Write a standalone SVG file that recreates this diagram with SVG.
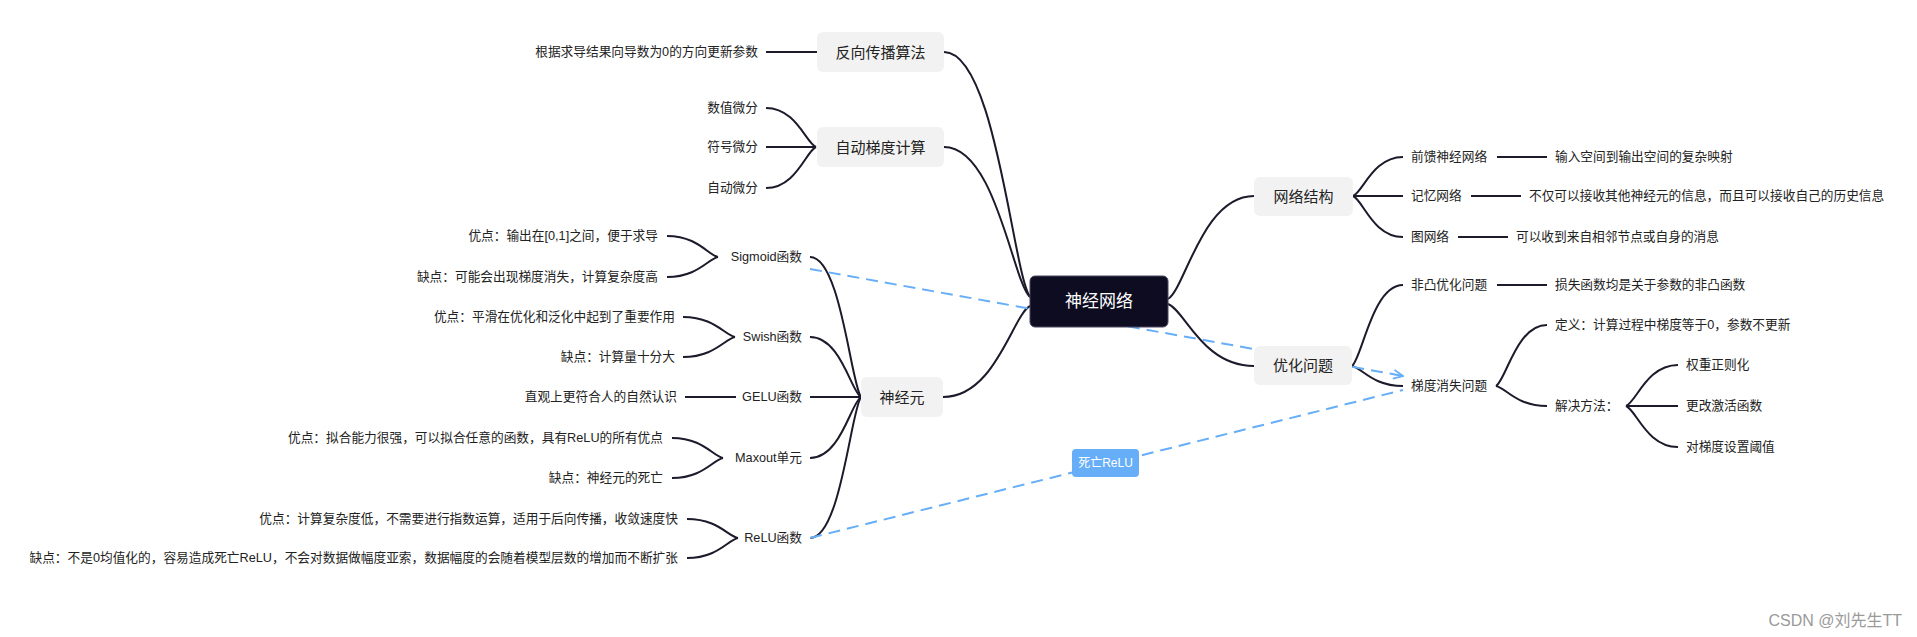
<svg xmlns="http://www.w3.org/2000/svg" width="1917" height="637" viewBox="0 0 1917 637">
<defs>
<style>
text{font-family:"Liberation Sans","Noto Sans CJK SC",sans-serif;fill:#222;dominant-baseline:central}
.t{font-size:12.7px}
.e{text-anchor:end}
.l1{font-size:15px;text-anchor:middle}
.box{fill:#f2f2f2}
.c{fill:none;stroke:#1c1a2b;stroke-width:2}
.d{fill:none;stroke:#66aef7;stroke-width:2;stroke-dasharray:12 7}
</style>
<marker id="arr" viewBox="0 0 12 12" refX="11" refY="6" markerWidth="12" markerHeight="12" markerUnits="userSpaceOnUse" orient="auto">
<path d="M1.5,1.5 L11,6 L1.5,10.5" fill="none" stroke="#66aef7" stroke-width="1.8" stroke-dasharray="none"/>
</marker>
</defs>
<rect width="1917" height="637" fill="#ffffff"/>
<g id="connectors">
<path class="c" d="M1030,297 C1012.8,272.5 995.6,52 944,52"/>
<path class="c" d="M1030,297 C1012.8,282 995.6,147 944,147"/>
<path class="c" d="M1030,306 C1012.6,315.1 995.2,397 943,397"/>
<path class="c" d="M1168,299 C1185.2,288.7 1202.4,196 1254,196"/>
<path class="c" d="M1168,304 C1185.2,310.2 1202.4,366 1254,366"/>
<path class="c" d="M817,52 L766,52"/>
<path class="c" d="M816,147 C806,143.1 796,108 766,108"/>
<path class="c" d="M816,147 L766,147"/>
<path class="c" d="M816,147 C806,151.1 796,188 766,188"/>
<path class="c" d="M861,397 C850.8,383 840.6,257 810,257"/>
<path class="c" d="M861,397 C850.8,391 840.6,337 810,337"/>
<path class="c" d="M861,397 L810,397"/>
<path class="c" d="M861,397 C850.8,403.1 840.6,458 810,458"/>
<path class="c" d="M861,397 C850.8,411.1 840.6,538 810,538"/>
<path class="c" d="M718,257 C707.8,254.9 697.6,236 667,236"/>
<path class="c" d="M718,257 C707.8,259 697.6,277 667,277"/>
<path class="c" d="M735,337 C724.6,335 714.2,317 683,317"/>
<path class="c" d="M735,337 C724.6,339 714.2,357 683,357"/>
<path class="c" d="M736,397 L685,397"/>
<path class="c" d="M723,458 C712.8,456 702.6,438 672,438"/>
<path class="c" d="M723,458 C712.8,460 702.6,478 672,478"/>
<path class="c" d="M738,538 C727.8,536.1 717.6,519 687,519"/>
<path class="c" d="M738,538 C727.8,540 717.6,558 687,558"/>
<path class="c" d="M1353,196 C1363,192.1 1373,157 1403,157"/>
<path class="c" d="M1353,196 L1403,196"/>
<path class="c" d="M1353,196 C1363,200.1 1373,237 1403,237"/>
<path class="c" d="M1497,157 L1547,157"/>
<path class="c" d="M1471,196 L1521,196"/>
<path class="c" d="M1458,237 L1508,237"/>
<path class="c" d="M1352,366 C1362.2,357.9 1372.4,285 1403,285"/>
<path class="c" d="M1352,366 C1362.2,368 1372.4,386 1403,386"/>
<path class="c" d="M1497,285 L1547,285"/>
<path class="c" d="M1496,386 C1506.2,379.9 1516.4,325 1547,325"/>
<path class="c" d="M1496,386 C1506.2,388 1516.4,406 1547,406"/>
<path class="c" d="M1626,406 C1636.4,401.9 1646.8,365 1678,365"/>
<path class="c" d="M1626,406 L1678,406"/>
<path class="c" d="M1626,406 C1636.4,410.1 1646.8,447 1678,447"/>
<path class="d" d="M810,269 L1403,376" marker-end="url(#arr)"/>
<path class="d" d="M810,538 L1403,390"/>
<g id="rel-label">
<rect x="1072" y="449" width="67" height="28" rx="4" fill="#66aef7"/>
<text x="1105.5" y="463" style="font-size:12px;fill:#fff;text-anchor:middle">死亡ReLU</text>
</g>
</g>

<g id="root">
<rect x="1030" y="276" width="138" height="51" rx="5" fill="#0e0c21" stroke="#4a4760" stroke-width="1"/>
<text x="1099" y="301.5" style="font-size:17px;fill:#fff;text-anchor:middle">神经网络</text>
</g>

<g id="n-fanxiang">
<rect class="box" x="817" y="32" width="127" height="40" rx="6"/>
<text class="l1" x="880.5" y="52">反向传播算法</text>
</g>
<g id="n-fanxiang-1"><text class="t e" x="758" y="52">根据求导结果向导数为0的方向更新参数</text></g>

<g id="n-zidong">
<rect class="box" x="817" y="127" width="127" height="40" rx="6"/>
<text class="l1" x="880.5" y="147">自动梯度计算</text>
</g>
<g id="n-zidong-1"><text class="t e" x="758" y="108">数值微分</text></g>
<g id="n-zidong-2"><text class="t e" x="758" y="147">符号微分</text></g>
<g id="n-zidong-3"><text class="t e" x="758" y="188">自动微分</text></g>

<g id="n-shenjingyuan">
<rect class="box" x="861" y="377" width="82" height="40" rx="6"/>
<text class="l1" x="902" y="397">神经元</text>
</g>
<g id="n-sigmoid"><text class="t e" x="802" y="257">Sigmoid函数</text></g>
<g id="n-sigmoid-1"><text class="t e" x="658" y="236">优点：输出在[0,1]之间，便于求导</text></g>
<g id="n-sigmoid-2"><text class="t e" x="658" y="277">缺点：可能会出现梯度消失，计算复杂度高</text></g>
<g id="n-swish"><text class="t e" x="802" y="337">Swish函数</text></g>
<g id="n-swish-1"><text class="t e" x="675" y="317">优点：平滑在优化和泛化中起到了重要作用</text></g>
<g id="n-swish-2"><text class="t e" x="675" y="357">缺点：计算量十分大</text></g>
<g id="n-gelu"><text class="t e" x="802" y="397">GELU函数</text></g>
<g id="n-gelu-1"><text class="t e" x="677" y="397">直观上更符合人的自然认识</text></g>
<g id="n-maxout"><text class="t e" x="802" y="458">Maxout单元</text></g>
<g id="n-maxout-1"><text class="t e" x="663" y="438">优点：拟合能力很强，可以拟合任意的函数，具有ReLU的所有优点</text></g>
<g id="n-maxout-2"><text class="t e" x="663" y="478">缺点：神经元的死亡</text></g>
<g id="n-relu"><text class="t e" x="802" y="538">ReLU函数</text></g>
<g id="n-relu-1"><text class="t e" x="678" y="519">优点：计算复杂度低，不需要进行指数运算，适用于后向传播，收敛速度快</text></g>
<g id="n-relu-2"><text class="t e" x="678" y="558">缺点：不是0均值化的，容易造成死亡ReLU，不会对数据做幅度亚索，数据幅度的会随着模型层数的增加而不断扩张</text></g>

<g id="n-wangluo">
<rect class="box" x="1254" y="177" width="99" height="39" rx="6"/>
<text class="l1" x="1303.5" y="196.5">网络结构</text>
</g>
<g id="n-wangluo-1"><text class="t" x="1411" y="157">前馈神经网络</text></g>
<g id="n-wangluo-1a"><text class="t" x="1555" y="157">输入空间到输出空间的复杂映射</text></g>
<g id="n-wangluo-2"><text class="t" x="1411" y="196">记忆网络</text></g>
<g id="n-wangluo-2a"><text class="t" x="1529" y="196">不仅可以接收其他神经元的信息，而且可以接收自己的历史信息</text></g>
<g id="n-wangluo-3"><text class="t" x="1411" y="237">图网络</text></g>
<g id="n-wangluo-3a"><text class="t" x="1516" y="237">可以收到来自相邻节点或自身的消息</text></g>

<g id="n-youhua">
<rect class="box" x="1254" y="346" width="98" height="39" rx="6"/>
<text class="l1" x="1303" y="365.5">优化问题</text>
</g>
<g id="n-youhua-1"><text class="t" x="1411" y="285">非凸优化问题</text></g>
<g id="n-youhua-1a"><text class="t" x="1555" y="285">损失函数均是关于参数的非凸函数</text></g>
<g id="n-youhua-2"><text class="t" x="1411" y="386">梯度消失问题</text></g>
<g id="n-youhua-2a"><text class="t" x="1555" y="325">定义：计算过程中梯度等于0，参数不更新</text></g>
<g id="n-youhua-2b"><text class="t" x="1555" y="406">解决方法：</text></g>
<g id="n-youhua-2b1"><text class="t" x="1686" y="365">权重正则化</text></g>
<g id="n-youhua-2b2"><text class="t" x="1686" y="406">更改激活函数</text></g>
<g id="n-youhua-2b3"><text class="t" x="1686" y="447">对梯度设置阈值</text></g>

<text x="1902" y="620" style="font-size:16px;fill:#9a9a9a;text-anchor:end">CSDN @刘先生TT</text>
</svg>
